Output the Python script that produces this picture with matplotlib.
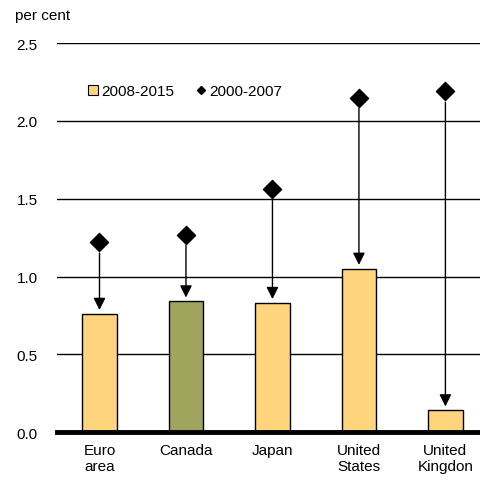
import numpy as np
import matplotlib
matplotlib.use('Agg')
import matplotlib.pyplot as plt
from matplotlib.lines import Line2D

plt.rcParams['font.family'] = ['Liberation Sans', 'DejaVu Sans']

countries = ['Euro\narea', 'Canada', 'Japan', 'United\nStates', 'United\nKingdon']
growth_2008_2015 = [0.76, 0.84, 0.83, 1.05, 0.14]
growth_2000_2007 = [1.22, 1.27, 1.56, 2.15, 2.19]

bar_colors = ['#FED47C', '#A0A45C', '#FED47C', '#FED47C', '#FED47C']

fig = plt.figure(figsize=(4.8, 4.85), dpi=100)
ax = fig.add_axes([0.119, 0.107, 0.881, 0.802])

x = np.arange(len(countries))
ax.bar(x, growth_2008_2015, width=0.4, color=bar_colors, edgecolor='black', linewidth=1.0, zorder=3)
ax.scatter(x, growth_2000_2007, marker='D', s=85, color='black', zorder=4)

# arrows from the old average down to the new one
for xi, top, old in zip(x, growth_2008_2015, growth_2000_2007):
    ax.annotate('', xy=(xi, top + 0.025), xytext=(xi, old - 0.07),
                arrowprops=dict(arrowstyle='-|>', color='black', lw=1.0,
                                mutation_scale=18, shrinkA=0, shrinkB=0),
                zorder=4)

ax.set_ylim(0, 2.5)
ax.set_xlim(-0.49, 4.4)
ax.set_yticks([0.0, 0.5, 1.0, 1.5, 2.0, 2.5])
ax.set_yticklabels(['0.0', '0.5', '1.0', '1.5', '2.0', '2.5'])
ax.set_xticks(x)
ax.set_xticklabels(countries)
ax.tick_params(axis='both', length=0, labelsize=11)
ax.tick_params(axis='y', pad=14)
ax.tick_params(axis='x', pad=8)
ax.yaxis.grid(True, color='black', linewidth=1.0, zorder=0)
for s in ['top', 'right', 'left']:
    ax.spines[s].set_visible(False)
ax.spines['bottom'].set_linewidth(3.5)
ax.spines['bottom'].set_zorder(5)

# legend
handles = [Line2D([], [], marker='s', linestyle='none', markersize=7,
                  markerfacecolor='#FED47C', markeredgecolor='black', markeredgewidth=0.8),
           Line2D([], [], marker='D', linestyle='none', markersize=4, color='black')]
ax.legend(handles, ['2008-2015', '2000-2007'], loc='upper left', bbox_to_anchor=(0.035, 0.93),
          ncol=2, frameon=False, fontsize=11, handletextpad=0.0, columnspacing=1.3,
          handlelength=1.0)

fig.text(15 / 480, 1 - 16 / 485, 'per cent', fontsize=11, va='center', ha='left')

fig.savefig('out.png', dpi=100)
